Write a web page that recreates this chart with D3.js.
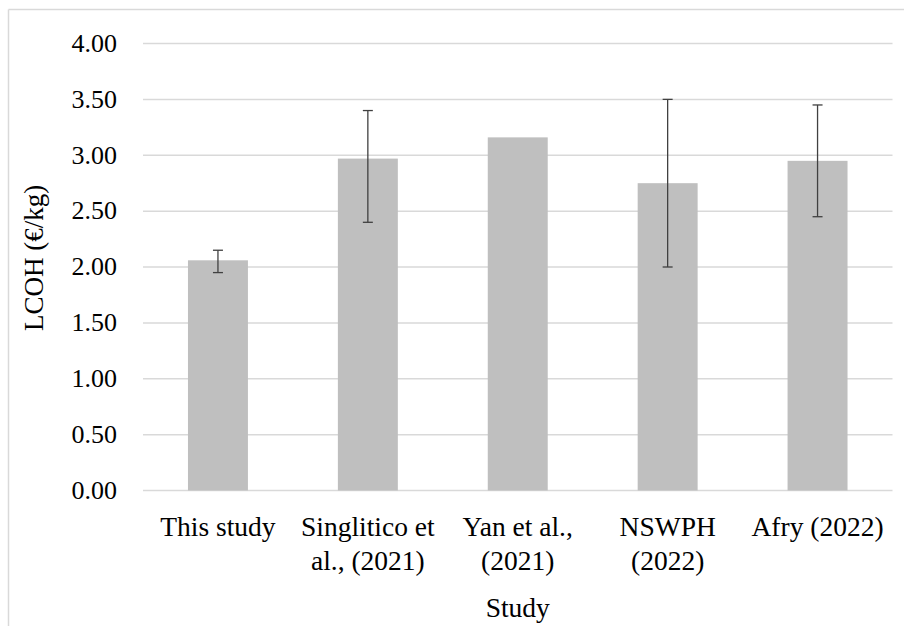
<!DOCTYPE html>
<html>
<head>
<meta charset="utf-8">
<script src="https://cdn.jsdelivr.net/npm/d3@7"></script>
<style>
  html, body { margin: 0; padding: 0; background: #fff; }
  svg { display: block; }
  text { font-family: "Liberation Serif", "DejaVu Serif", serif; fill: #000; }
</style>
</head>
<body>
<svg id="chart" width="904" height="626"></svg>
<script>
// ---- data ----
const categories = [["This study"], ["Singlitico et", "al., (2021)"], ["Yan et al.,", "(2021)"], ["NSWPH", "(2022)"], ["Afry (2022)"]];
const values = [2.06, 2.97, 3.16, 2.75, 2.95];
const errLow = [1.95, 2.40, null, 2.00, 2.45];
const errHigh = [2.15, 3.40, null, 3.50, 3.45];
const yTicks = [0, 0.5, 1, 1.5, 2, 2.5, 3, 3.5, 4];
const yTitle = "LCOH (€/kg)";
const xTitle = "Study";

(function () {
const svg = d3.select("#chart");
const W = 904, H = 626;
const pLeft = 143, pRight = 892.5, pTop = 43.5, pBottom = 490.5;

// chart border (top & left visible)
svg.append("line").attr("x1", 8.5).attr("x2", W).attr("y1", 9.5).attr("y2", 9.5)
  .attr("stroke", "#d9d9d9").attr("stroke-width", 1.5);
svg.append("line").attr("x1", 8.5).attr("x2", 8.5).attr("y1", 9.5).attr("y2", H)
  .attr("stroke", "#d9d9d9").attr("stroke-width", 1.5);

const keys = categories.map((c, i) => i);
const x = d3.scaleBand().domain(keys).range([pLeft, pRight]).paddingInner(0.6).paddingOuter(0.3);
const y = d3.scaleLinear().domain([0, 4]).range([pBottom, pTop]);

// gridlines
svg.append("g").selectAll("line").data(yTicks).join("line")
  .attr("x1", pLeft).attr("x2", pRight)
  .attr("y1", d => y(d)).attr("y2", d => y(d))
  .attr("stroke", "#d9d9d9").attr("stroke-width", 1.5);

// y tick labels via axis
const yAxis = d3.axisLeft(y).tickValues(yTicks).tickFormat(d3.format(".2f")).tickSize(0).tickPadding(0);
const ya = svg.append("g").attr("transform", "translate(117,0)").call(yAxis);
ya.select(".domain").remove();
ya.selectAll("text").attr("font-size", 26).attr("font-family", "Liberation Serif, serif").attr("fill", "#000").attr("dy", "0.3em");

// bars
svg.append("g").selectAll("rect").data(keys).join("rect")
  .attr("x", i => x(i)).attr("width", x.bandwidth())
  .attr("y", i => y(values[i])).attr("height", i => y(0) - y(values[i]))
  .attr("fill", "#bfbfbf");

// error bars
const eb = svg.append("g").attr("stroke", "#404040").attr("stroke-width", 1.3);
keys.filter(i => errLow[i] !== null).forEach(i => {
  const cx = x(i) + x.bandwidth() / 2;
  eb.append("line").attr("x1", cx).attr("x2", cx).attr("y1", y(errLow[i])).attr("y2", y(errHigh[i]));
  eb.append("line").attr("x1", cx - 5).attr("x2", cx + 5).attr("y1", y(errLow[i])).attr("y2", y(errLow[i]));
  eb.append("line").attr("x1", cx - 5).attr("x2", cx + 5).attr("y1", y(errHigh[i])).attr("y2", y(errHigh[i]));
});

// category labels
const xl = svg.append("g");
keys.forEach(i => {
  const cx = x(i) + x.bandwidth() / 2;
  const t = xl.append("text").attr("text-anchor", "middle").attr("font-size", 27.5);
  categories[i].forEach((line, j) => {
    t.append("tspan").attr("x", cx).attr("y", 536 + j * 34).text(line);
  });
});

// axis titles
svg.append("text").attr("x", (pLeft + pRight) / 2).attr("y", 617)
  .attr("text-anchor", "middle").attr("font-size", 27.5).text(xTitle);
svg.append("text").attr("transform", "translate(43," + 258 + ") rotate(-90)")
  .attr("text-anchor", "middle").attr("font-size", 27).text(yTitle);
})();
</script>
</body>
</html>
